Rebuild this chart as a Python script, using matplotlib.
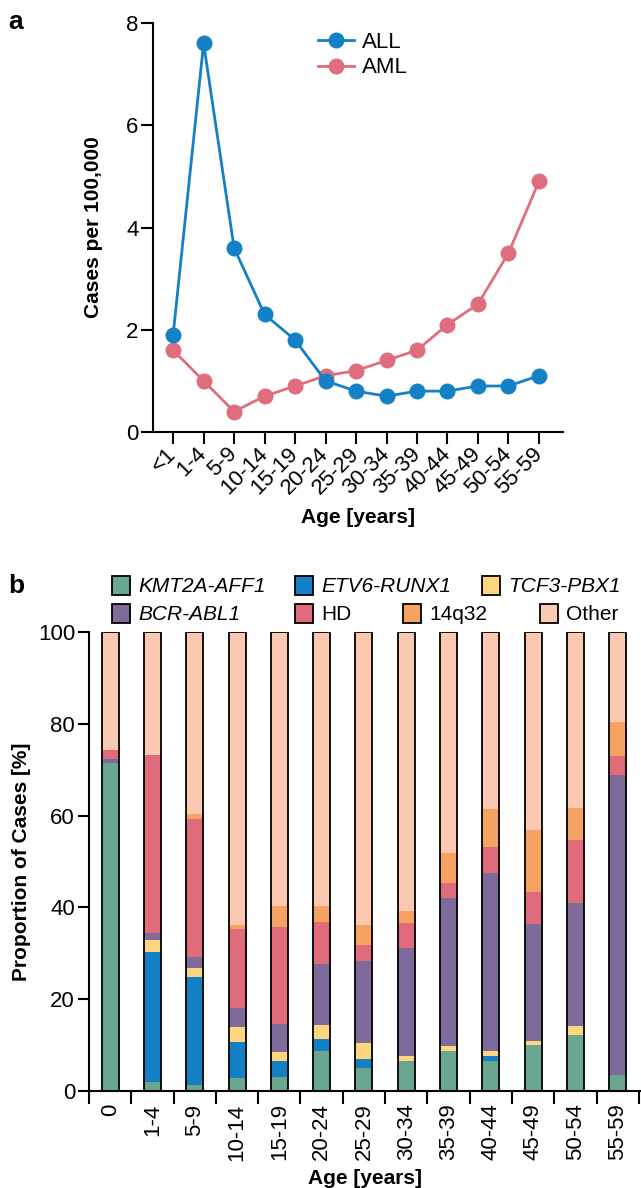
import matplotlib
matplotlib.use("Agg")
import matplotlib.pyplot as plt
import numpy as np
from matplotlib.patches import Rectangle

plt.rcParams['font.family'] = ['Liberation Sans', 'DejaVu Sans']

# ---- panel a data ----
age_groups_a = ['<1', '1-4', '5-9', '10-14', '15-19', '20-24', '25-29',
                '30-34', '35-39', '40-44', '45-49', '50-54', '55-59']
all_rate = [1.9, 7.6, 3.6, 2.3, 1.8, 1.0, 0.8, 0.7, 0.8, 0.8, 0.9, 0.9, 1.1]
aml_rate = [1.6, 1.0, 0.4, 0.7, 0.9, 1.1, 1.2, 1.4, 1.6, 2.1, 2.5, 3.5, 4.9]

# ---- panel b data ----
age_groups_b = ['0', '1-4', '5-9', '10-14', '15-19', '20-24', '25-29',
                '30-34', '35-39', '40-44', '45-49', '50-54', '55-59']
kmt2a = [71.4, 2.0, 1.3, 2.8, 3.1, 8.7, 5.0, 6.6, 8.7, 6.6, 10.1, 12.2, 3.5]
etv6 = [0.0, 28.2, 23.6, 7.9, 3.5, 2.7, 2.0, 0.0, 0.0, 1.0, 0.0, 0.0, 0.0]
tcf3 = [0.0, 2.6, 2.0, 3.3, 1.9, 3.0, 3.5, 1.0, 1.1, 1.1, 0.8, 2.0, 0.0]
bcr = [0.9, 1.7, 2.4, 4.1, 6.1, 13.3, 17.9, 23.6, 32.2, 38.9, 25.4, 26.7, 65.3]
hd = [2.0, 38.7, 29.9, 17.1, 21.2, 9.2, 3.5, 5.5, 3.4, 5.6, 7.0, 13.7, 4.2]
q14 = [0.0, 0.0, 1.1, 0.9, 4.4, 3.3, 4.2, 2.6, 6.4, 8.2, 13.5, 7.0, 7.4]
other = [25.7, 26.8, 39.7, 63.9, 59.8, 59.8, 63.9, 60.7, 48.2, 38.6, 43.2, 38.4, 19.6]

series_names = ['KMT2A-AFF1', 'ETV6-RUNX1', 'TCF3-PBX1', 'BCR-ABL1', 'HD', '14q32', 'Other']
series_vals = [kmt2a, etv6, tcf3, bcr, hd, q14, other]
series_cols = ['#6aa790', '#1380c6', '#fdd57f', '#7f6b9b', '#df6b7b', '#f6a263', '#fbc9b0']
italic = [True, True, True, True, False, False, False]

W, H = 641, 1188
fig = plt.figure(figsize=(W / 100, H / 100), dpi=100)

def fx(px):
    return px / W

def fy(py):
    return 1 - py / H

# ================= panel a =================
ax1 = fig.add_axes([fx(153), fy(432), fx(563) - fx(153), fy(23) - fy(432)])
xa = np.arange(len(age_groups_a))
ax1.plot(xa, aml_rate, '-o', color='#df6d7d', lw=2, ms=11.5, mec='none', label='AML', zorder=3)
ax1.plot(xa, all_rate, '-o', color='#1480c6', lw=2, ms=11.5, mec='none', label='ALL', zorder=4)
ax1.set_xlim(-0.66, 12.79)
ax1.set_ylim(0, 8)
ax1.set_yticks([0, 2, 4, 6, 8])
ax1.set_xticks(xa)
ax1.set_xticklabels(age_groups_a, rotation=45, ha='right', va='center', rotation_mode='anchor')
ax1.tick_params(axis='both', labelsize=16, width=1.5, length=8.5, pad=2)
ax1.tick_params(axis='x', pad=5)
for s in ['top', 'right']:
    ax1.spines[s].set_visible(False)
for s in ['left', 'bottom']:
    ax1.spines[s].set_linewidth(1.5)
ax1.set_ylabel('Cases per 100,000', fontsize=15, fontweight='bold')
ax1.yaxis.set_label_coords(-0.122, 0.5)
ax1.set_xlabel('Age [years]', fontsize=15, fontweight='bold', va='center')
ax1.xaxis.set_label_coords(0.5, -0.21)
h, l = ax1.get_legend_handles_labels()
ax1.legend(h[::-1], l[::-1], loc='upper left', bbox_to_anchor=(fx(318), fy(32)),
           bbox_transform=fig.transFigure, frameon=False, fontsize=16,
           borderpad=0, borderaxespad=0, handlelength=1.6, handletextpad=0.4,
           labelspacing=0.2)

# ================= panel b =================
ax2 = fig.add_axes([fx(89), fy(1091), 1 - fx(89), fy(632) - fy(1091)])
xb = np.arange(len(age_groups_b))
bottom = np.zeros(len(xb))
bw = 0.4
for vals, col in zip(series_vals, series_cols):
    ax2.bar(xb, vals, bw, bottom=bottom, color=col, edgecolor='none', zorder=2)
    bottom += np.array(vals)
ax2.bar(xb, bottom, bw, fill=False, edgecolor='black', lw=1.3, zorder=3)
ax2.set_xlim(-0.5, 12.55)
ax2.set_ylim(0, 100)
ax2.set_yticks([0, 20, 40, 60, 80, 100])
ax2.set_xticks(xb)
ax2.set_xticklabels(age_groups_b, rotation=90)
ax2.set_xticks(np.arange(-0.5, 13, 1), minor=True)
ax2.tick_params(axis='y', labelsize=16, width=1.5, length=8, pad=2)
ax2.tick_params(axis='x', which='major', labelsize=16, length=0, pad=9)
ax2.tick_params(axis='x', which='minor', width=1.5, length=9)
for s in ['top', 'right']:
    ax2.spines[s].set_visible(False)
for s in ['left', 'bottom']:
    ax2.spines[s].set_linewidth(1.5)
ax2.spines['bottom'].set_clip_on(False)
ax2.set_ylabel('Proportion of Cases [%]', fontsize=15, fontweight='bold')
ax2.yaxis.set_label_coords(-0.105, 0.5)
ax2.set_xlabel('Age [years]', fontsize=15, fontweight='bold', va='center')
ax2.xaxis.set_label_coords(0.5, -0.19)

# legend for panel b (placed by hand, two uneven rows)
leg_x = [112, 295, 482, 112, 295, 403, 540]
leg_y = [585, 585, 585, 613, 613, 613, 613]
for name, col, it, px, py in zip(series_names, series_cols, italic, leg_x, leg_y):
    fig.add_artist(Rectangle((fx(px), fy(py + 9.5)), fx(18), 19 / H, transform=fig.transFigure,
                             facecolor=col, edgecolor='black', lw=1.3))
    fig.text(fx(px + 26), fy(py + 1), name, fontsize=15, va='center', ha='left',
             style='italic' if it else 'normal')

fig.text(fx(8), fy(22), 'a', fontsize=19, fontweight='bold', va='center', ha='left')
fig.text(fx(8), fy(586), 'b', fontsize=19, fontweight='bold', va='center', ha='left')

fig.savefig('out.png', dpi=100)
